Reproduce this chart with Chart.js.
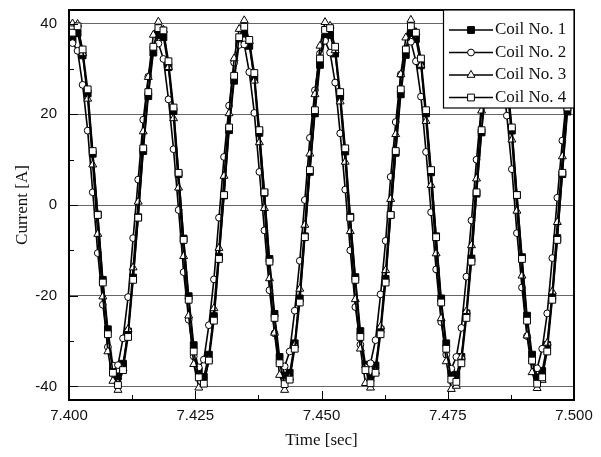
<!DOCTYPE html>
<html>
<head>
<meta charset="utf-8">
<script src="https://cdn.jsdelivr.net/npm/chart.js@4.4.0/dist/chart.umd.min.js"></script>
<style>
  body { margin: 0; background: #fff; }
</style>
</head>
<body>
<canvas id="chart" width="601" height="457"></canvas>
<script>
// sample times [sec], one reading per ms
const times = [
  7.4007, 7.4017, 7.4027, 7.4037, 7.4047, 7.4057, 7.4067, 7.4077, 7.4087, 7.4097,
  7.4107, 7.4117, 7.4127, 7.4137, 7.4147, 7.4157, 7.4167, 7.4177, 7.4187, 7.4197,
  7.4207, 7.4217, 7.4227, 7.4237, 7.4247, 7.4257, 7.4267, 7.4277, 7.4287, 7.4297,
  7.4307, 7.4317, 7.4327, 7.4337, 7.4347, 7.4357, 7.4367, 7.4377, 7.4387, 7.4397,
  7.4407, 7.4417, 7.4427, 7.4437, 7.4447, 7.4457, 7.4467, 7.4477, 7.4487, 7.4497,
  7.4507, 7.4517, 7.4527, 7.4537, 7.4547, 7.4557, 7.4567, 7.4577, 7.4587, 7.4597,
  7.4607, 7.4617, 7.4627, 7.4637, 7.4647, 7.4657, 7.4667, 7.4677, 7.4687, 7.4697,
  7.4707, 7.4717, 7.4727, 7.4737, 7.4747, 7.4757, 7.4767, 7.4777, 7.4787, 7.4797,
  7.4807, 7.4817, 7.4827, 7.4837, 7.4847, 7.4857, 7.4867, 7.4877, 7.4887, 7.4897,
  7.4907, 7.4917, 7.4927, 7.4937, 7.4947, 7.4957, 7.4967, 7.4977, 7.4987, 7.4997
];

const coil1 = [
  36.5, 37.9, 33.0, 24.6, 11.3, -2.1, -16.5, -27.4, -35.6, -37.8,
  -35.0, -27.9, -16.0, -2.7, 11.9, 24.0, 33.6, 37.5, 37.0, 30.4,
  20.7, 6.8, -7.4, -20.1, -30.9, -36.6, -37.9, -33.0, -24.5, -11.4,
  2.1, 16.5, 27.4, 35.6, 37.8, 35.1, 27.9, 15.9, 2.7, -11.9,
  -24.0, -33.5, -37.6, -37.0, -30.5, -20.6, -6.9, 7.3, 20.2, 30.9,
  36.9, 37.5, 33.4, 23.9, 11.8, -2.6, -15.9, -27.8, -35.2, -38.2,
  -35.4, -27.5, -16.3, -2.2, 11.5, 24.4, 33.1, 37.9, 36.6, 30.8,
  20.2, 7.2, -6.9, -20.6, -30.5, -37.1, -37.5, -33.5, -23.9, -11.8,
  2.5, 16.0, 27.9, 35.2, 38.1, 35.5, 27.4, 16.4, 2.2, -11.5,
  -24.4, -33.0, -38.0, -36.6, -30.9, -20.2, -7.3, 6.8, 20.6, 30.5
];

const coil2 = [
  35.7, 34.0, 26.5, 16.4, 2.8, -10.6, -22.0, -31.3, -35.4, -35.3,
  -29.4, -20.3, -7.3, 5.6, 18.8, 28.3, 34.8, 35.6, 32.2, 23.3,
  12.3, -1.1, -14.8, -25.3, -33.4, -35.8, -34.1, -26.5, -16.4, -2.8,
  10.6, 21.9, 31.4, 35.3, 35.4, 29.3, 20.3, 7.3, -5.6, -18.8,
  -28.3, -34.8, -35.6, -32.3, -23.3, -12.3, 1.1, 14.8, 25.3, 33.4,
  36.2, 33.6, 27.0, 15.8, 3.4, -10.0, -22.5, -30.8, -35.8, -34.9,
  -29.8, -19.7, -7.9, 6.2, 18.3, 28.8, 34.4, 36.0, 31.7, 23.9,
  11.7, -1.6, -14.2, -25.8, -33.0, -36.1, -33.5, -27.1, -15.8, -3.4,
  10.0, 22.5, 30.8, 35.8, 34.8, 29.9, 19.7, 7.9, -6.2, -18.2,
  -28.9, -34.4, -36.0, -31.7, -23.9, -11.7, 1.6, 14.2, 25.8, 33.0
];

const coil3 = [
  40.0, 39.9, 33.5, 23.4, 8.9, -6.4, -20.2, -32.3, -38.8, -40.8,
  -36.1, -27.4, -13.8, 0.7, 16.2, 28.2, 37.5, 40.4, 38.6, 30.4,
  19.1, 3.8, -11.3, -24.4, -35.1, -40.3, -39.5, -34.1, -22.8, -9.5,
  6.4, 20.2, 32.3, 38.8, 40.7, 36.1, 27.4, 13.8, -0.7, -16.2,
  -28.2, -37.5, -40.8, -38.1, -30.9, -18.5, -4.4, 11.3, 24.4, 35.1,
  40.3, 39.5, 34.1, 22.8, 9.5, -5.8, -20.8, -31.7, -39.3, -40.3,
  -36.7, -26.8, -14.4, 1.3, 15.6, 28.8, 36.9, 40.8, 38.1, 30.9,
  18.5, 4.4, -10.7, -25.0, -34.5, -40.6, -39.9, -33.5, -23.4, -8.9,
  5.8, 20.8, 31.7, 39.3, 40.3, 36.7, 26.8, 14.4, -1.3, -15.6,
  -28.8, -36.9, -40.4, -38.6, -30.4, -19.1, -3.8, 10.7, 25.0, 34.5
];

const coil4 = [
  38.0, 39.4, 34.3, 25.5, 11.9, -2.2, -17.1, -28.5, -37.0, -39.7,
  -36.4, -29.1, -16.5, -2.8, 12.5, 24.9, 34.9, 39.0, 38.5, 31.7,
  21.5, 7.1, -7.7, -20.9, -32.3, -38.0, -39.4, -34.3, -25.5, -11.9,
  2.2, 17.1, 28.5, 37.0, 39.3, 36.4, 29.1, 16.5, 2.8, -12.5,
  -24.9, -34.9, -39.5, -38.5, -31.7, -21.5, -7.1, 7.7, 20.9, 32.3,
  38.6, 39.0, 34.9, 24.9, 12.5, -2.8, -16.5, -29.1, -36.4, -39.3,
  -37.0, -28.5, -17.1, -2.2, 11.9, 25.5, 34.3, 39.4, 38.0, 32.3,
  20.9, 7.7, -7.1, -21.5, -31.7, -38.5, -39.0, -34.9, -24.9, -12.5,
  2.8, 16.5, 29.1, 36.4, 39.7, 37.0, 28.5, 17.1, 2.2, -11.9,
  -25.5, -34.3, -39.4, -38.0, -32.3, -20.9, -7.7, 7.1, 21.5, 31.7
];

const seriesNames = ['Coil No. 1', 'Coil No. 2', 'Coil No. 3', 'Coil No. 4'];
const xTickLabels = ['7.400', '7.425', '7.450', '7.475', '7.500'];
const yTickLabels = [-40, -20, 0, 20, 40];

const markers = [
  { style: 'rect', radius: 4.8, fill: '#000' },
  { style: 'circle', radius: 3.4, fill: '#fff' },
  { style: 'triangle', radius: 4.6, fill: '#fff' },
  { style: 'rect', radius: 4.8, fill: '#fff' }
];

function toPoints(values) {
  return values.map((v, i) => ({ x: times[i], y: v }));
}

const datasets = [coil1, coil2, coil3, coil4].map((vals, i) => ({
  label: seriesNames[i],
  data: toPoints(vals),
  borderColor: '#000',
  borderWidth: 1.6,
  pointStyle: markers[i].style,
  pointRadius: markers[i].radius,
  pointBackgroundColor: markers[i].fill,
  pointBorderColor: '#000',
  pointBorderWidth: 1,
  order: 3 - i
}));

function drawMarker(ctx, m, x, y) {
  ctx.beginPath();
  if (m.style === 'rect') {
    const s = m.radius * Math.SQRT1_2;
    ctx.rect(x - s, y - s, 2 * s, 2 * s);
  } else if (m.style === 'circle') {
    ctx.arc(x, y, m.radius, 0, Math.PI * 2);
  } else {
    const r = m.radius;
    ctx.moveTo(x, y - r);
    ctx.lineTo(x + r * 0.866, y + r * 0.5);
    ctx.lineTo(x - r * 0.866, y + r * 0.5);
    ctx.closePath();
  }
  ctx.fillStyle = m.fill;
  ctx.fill();
  ctx.stroke();
}

// border, inward tick marks and the boxed legend
const frame = {
  id: 'frame',
  afterDraw(chart) {
    const { ctx, chartArea: a, scales: { x, y } } = chart;
    ctx.save();
    ctx.strokeStyle = '#000';
    ctx.lineWidth = 1;
    x.ticks.forEach(t => {
      const px = Math.round(x.getPixelForValue(t.value)) + 0.5;
      const len = t.label ? 9 : 5;
      ctx.beginPath();
      ctx.moveTo(px, a.bottom);
      ctx.lineTo(px, a.bottom - len);
      ctx.stroke();
    });
    y.ticks.forEach(t => {
      const py = Math.round(y.getPixelForValue(t.value)) + 0.5;
      ctx.beginPath();
      ctx.moveTo(a.left, py);
      ctx.lineTo(a.left + (t.label ? 9 : 5), py);
      ctx.stroke();
    });
    ctx.lineWidth = 2;
    ctx.strokeRect(a.left, a.top, a.right - a.left, a.bottom - a.top);

    const w = 131, h = 98;
    const x0 = a.right - w, y0 = a.top;
    ctx.fillStyle = '#fff';
    ctx.fillRect(x0, y0, w, h);
    ctx.lineWidth = 1.2;
    ctx.strokeRect(x0 + 0.5, y0, w - 0.5, h);
    ctx.font = '17px "Liberation Serif"';
    ctx.textBaseline = 'middle';
    seriesNames.forEach((name, i) => {
      const ry = y0 + 20 + i * 22.5;
      ctx.strokeStyle = '#000';
      ctx.lineWidth = 1.3;
      ctx.beginPath();
      ctx.moveTo(x0 + 6, ry);
      ctx.lineTo(x0 + 50, ry);
      ctx.stroke();
      ctx.lineWidth = 1;
      drawMarker(ctx, markers[i], x0 + 28, ry);
      ctx.fillStyle = '#111';
      ctx.fillText(name, x0 + 52, ry);
    });
    ctx.restore();
  }
};

new Chart(document.getElementById('chart'), {
  type: 'line',
  data: { datasets },
  options: {
    responsive: false,
    animation: false,
    devicePixelRatio: 1,
    layout: { padding: { top: 10, right: 27, left: 0, bottom: 0 } },
    plugins: { legend: { display: false }, tooltip: { enabled: false } },
    scales: {
      x: {
        type: 'linear',
        min: 7.4,
        max: 7.5,
        ticks: {
          stepSize: 0.0125,
          autoSkip: false,
          maxRotation: 0,
          padding: 7,
          color: '#111',
          font: { family: 'Liberation Sans', size: 15 },
          callback: v => {
            const s = Number(v).toFixed(3);
            return xTickLabels.includes(s) ? s : '';
          }
        },
        grid: { display: false, drawTicks: false },
        border: { display: false },
        title: {
          display: true,
          text: 'Time [sec]',
          color: '#111',
          font: { family: 'Liberation Serif', size: 17 },
          padding: { top: 0, bottom: 6 }
        },
        afterFit: s => { s.height = 57; }
      },
      y: {
        min: -43,
        max: 43,
        ticks: {
          stepSize: 10,
          includeBounds: false,
          autoSkip: false,
          padding: 12,
          color: '#111',
          font: { family: 'Liberation Sans', size: 15 },
          callback: v => yTickLabels.includes(v) ? String(v) : ''
        },
        grid: {
          drawTicks: false,
          lineWidth: 1,
          color: c => (yTickLabels.includes(c.tick.value) ? '#666' : 'rgba(0,0,0,0)')
        },
        border: { display: false },
        title: {
          display: true,
          text: 'Current [A]',
          color: '#111',
          font: { family: 'Liberation Serif', size: 17 },
          padding: { top: 12, bottom: 0 }
        },
        afterFit: s => {
          s.width = 69;
          s.paddingTop = 0;
          s.paddingBottom = 0;
        }
      }
    }
  },
  plugins: [frame]
});
</script>
</body>
</html>
